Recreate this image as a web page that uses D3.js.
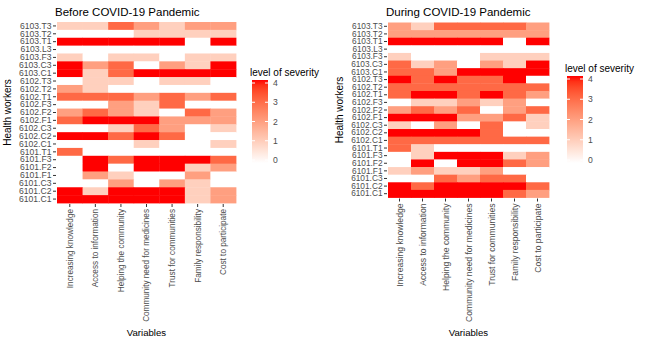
<!DOCTYPE html>
<html>
<head>
<meta charset="utf-8">
<script src="https://cdn.jsdelivr.net/npm/d3@7"></script>
<style>
  body { margin: 0; background: #fff; }
  svg { display: block; font-family: "Liberation Sans", Arial, sans-serif; }
</style>
</head>
<body>
<script>
// health workers, top to bottom as drawn
const workers = ["6103.T3", "6103.T2", "6103.T1", "6103.L3", "6103.F3", "6103.C3", "6103.C1",
  "6102.T3", "6102.T2", "6102.T1", "6102.F3", "6102.F2", "6102.F1", "6102.C3", "6102.C2", "6102.C1",
  "6101.T1", "6101.F3", "6101.F2", "6101.F1", "6101.C3", "6101.C2", "6101.C1"]

const variables = ["Increasing knowledge", "Access to information", "Helping the community",
  "Community need for medicines", "Trust for communities", "Family responsibility", "Cost to participate"]

// severity, one row per worker, one column per variable
const before = [
  [1, 1, 3, 2, 1, 2, 2],
  [0, 0, 0, 1, 1, 1, 1],
  [4, 4, 4, 4, 4, 0, 4],
  [0, 0, 0, 0, 0, 0, 0],
  [1, 0, 1, 1, 0, 1, 1],
  [4, 2, 3, 0, 2, 1, 4],
  [4, 1, 3, 4, 4, 4, 4],
  [0, 1, 1, 0, 1, 1, 0],
  [2, 1, 0, 0, 0, 0, 0],
  [3, 3, 3, 2, 3, 2, 3],
  [0, 0, 2, 1, 3, 0, 0],
  [2, 3, 2, 1, 0, 3, 2],
  [3, 4, 4, 4, 2, 2, 2],
  [0, 0, 1, 3, 2, 0, 1],
  [4, 4, 3, 4, 3, 0, 0],
  [0, 0, 0, 1, 0, 0, 1],
  [3, 0, 0, 0, 0, 0, 0],
  [0, 4, 3, 4, 4, 4, 3],
  [0, 4, 0, 4, 4, 1, 2],
  [0, 2, 1, 0, 0, 2, 0],
  [0, 0, 2, 0, 2, 1, 0],
  [4, 1, 4, 4, 4, 1, 2],
  [4, 4, 4, 4, 4, 1, 2]
]

const during = [
  [2, 1, 3, 3, 3, 3, 2],
  [2, 2, 2, 2, 2, 2, 2],
  [4, 4, 4, 4, 4, 0, 4],
  [0, 0, 0, 0, 0, 0, 0],
  [1, 0, 0, 0, 1, 1, 1],
  [3, 1, 2, 0, 2, 1, 4],
  [3, 3, 2, 4, 4, 4, 4],
  [4, 3, 4, 3, 3, 4, 0],
  [3, 3, 3, 3, 3, 3, 3],
  [3, 4, 4, 3, 4, 3, 2],
  [0, 1, 1, 2, 1, 2, 0],
  [2, 3, 2, 3, 0, 2, 3],
  [4, 4, 4, 2, 2, 3, 1],
  [1, 0, 2, 0, 3, 0, 1],
  [4, 4, 4, 4, 3, 0, 0],
  [3, 3, 3, 3, 3, 3, 3],
  [3, 1, 0, 0, 0, 0, 0],
  [0, 1, 4, 4, 4, 1, 2],
  [0, 4, 0, 4, 4, 3, 2],
  [1, 2, 1, 1, 2, 0, 0],
  [0, 0, 3, 2, 3, 3, 0],
  [4, 3, 4, 4, 4, 4, 3],
  [4, 4, 4, 4, 4, 3, 2]
]

const severityTicks = [0, 1, 2, 3, 4]

const width = 646
const height = 343

const svg = d3.select("body").append("svg")
  .attr("width", width)
  .attr("height", height)

const color = d3.scaleLinear().domain([0, 4]).range(["white", "red"]).interpolate(d3.interpolateLab)

// one linear gradient shared by both legends
const grad = svg.append("defs").append("linearGradient")
  .attr("id", "sev").attr("x1", 0).attr("y1", 1).attr("x2", 0).attr("y2", 0)
d3.range(0, 4.01, 0.25).forEach(v => {
  grad.append("stop").attr("offset", v / 4).attr("stop-color", color(v))
})

function drawPanel(p) {
  const g = svg.append("g")

  const x = d3.scaleBand().domain(variables).range([p.left, p.right])
  const y = d3.scaleBand().domain(workers).range([p.top, p.bottom])

  const cells = []
  p.values.forEach((row, i) => row.forEach((v, j) => cells.push({ w: workers[i], k: variables[j], v: v })))

  g.append("g").selectAll("rect")
    .data(cells)
    .enter().append("rect")
    .attr("x", d => x(d.k))
    .attr("y", d => y(d.w))
    .attr("width", x.bandwidth() + 0.4)
    .attr("height", y.bandwidth() + 0.4)
    .attr("fill", d => color(d.v))

  // y axis
  const ya = g.append("g")
    .attr("transform", `translate(${p.left - 1},0)`)
    .call(d3.axisLeft(y).tickSize(3).tickPadding(1.5))
  ya.select(".domain").remove()
  ya.selectAll("line").attr("stroke", "#333")
  ya.selectAll("text").attr("fill", "#4d4d4d").style("font-size", p.yFont + "px")

  // x axis, labels turned up
  const xa = g.append("g")
    .attr("transform", `translate(0,${p.bottom + 1})`)
    .call(d3.axisBottom(x).tickSize(3))
  xa.select(".domain").remove()
  xa.selectAll("line").attr("stroke", "#333")
  xa.selectAll("text")
    .attr("transform", "rotate(-90)")
    .attr("text-anchor", "end")
    .attr("x", -5)
    .attr("y", 0)
    .attr("dy", "0.35em")
    .attr("fill", "#4d4d4d")
    .style("font-size", p.xFont + "px")

  g.append("text")
    .attr("x", p.left - 2)
    .attr("y", 16)
    .style("font-size", "11.5px")
    .attr("fill", "#000")
    .text(p.title)

  g.append("text")
    .attr("x", (p.left + p.right) / 2)
    .attr("y", 336)
    .attr("text-anchor", "middle")
    .style("font-size", "9.6px")
    .attr("fill", "#000")
    .text("Variables")

  g.append("text")
    .attr("transform", `translate(${p.yTitleX},${(p.top + p.bottom) / 2}) rotate(-90)`)
    .attr("text-anchor", "middle")
    .style("font-size", "10px")
    .attr("fill", "#000")
    .text("Health workers")

  // legend
  const ls = d3.scaleLinear().domain([0, 4]).range([p.leg0, p.leg4])
  const lg = g.append("g")
  lg.append("text")
    .attr("x", p.legX - 2)
    .attr("y", p.leg4 - 7)
    .style("font-size", "10px")
    .attr("fill", "#000")
    .text("level of severity")
  lg.append("rect")
    .attr("x", p.legX)
    .attr("y", ls(4) - 3)
    .attr("width", 16)
    .attr("height", ls(0) - ls(4) + 6)
    .attr("fill", "url(#sev)")
  lg.selectAll(".tk")
    .data(severityTicks)
    .enter().append("g")
    .each(function (d) {
      const t = d3.select(this)
      t.append("line").attr("x1", p.legX).attr("x2", p.legX + 3)
        .attr("y1", ls(d)).attr("y2", ls(d)).attr("stroke", "white")
      t.append("line").attr("x1", p.legX + 13).attr("x2", p.legX + 16)
        .attr("y1", ls(d)).attr("y2", ls(d)).attr("stroke", "white")
      t.append("text").attr("x", p.legX + 21).attr("y", ls(d)).attr("dy", "0.35em")
        .style("font-size", "8.6px").attr("fill", "#4d4d4d").text(d)
    })
}

drawPanel({
  values: before, title: "Before COVID-19 Pandemic",
  left: 57, right: 236, top: 22, bottom: 203,
  yFont: 8.6, xFont: 8.2, yTitleX: 11,
  legX: 252, leg0: 160, leg4: 83
})

drawPanel({
  values: during, title: "During COVID-19 Pandemic",
  left: 388, right: 549, top: 22.5, bottom: 197.5,
  yFont: 8.3, xFont: 8.6, yTitleX: 343,
  legX: 567, leg0: 160, leg4: 79
})
</script>
</body>
</html>
